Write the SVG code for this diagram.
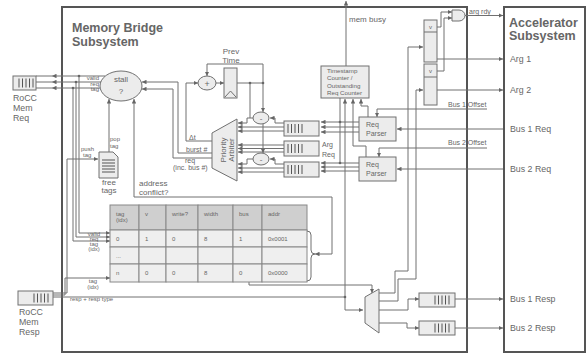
<svg xmlns="http://www.w3.org/2000/svg" width="587" height="354" viewBox="0 0 587 354">
<defs>
<marker id="a" viewBox="0 0 6 6" refX="6" refY="3" markerWidth="4.5" markerHeight="4.5" orient="auto-start-reverse" markerUnits="userSpaceOnUse"><path d="M0,0 L6,3 L0,6 z" fill="#666"/></marker>
<g id="qbars"><path d="M0,0V9M3.5,0V9M7,0V9M10.5,0V9M14,0V9" stroke="#555" stroke-width="1"/></g>
</defs>
<style>
.l{fill:none;stroke:#707070;stroke-width:1}
.la{fill:none;stroke:#707070;stroke-width:1;marker-end:url(#a)}
.bx{fill:#ececec;stroke:#707070;stroke-width:1}
.sys{fill:none;stroke:#555;stroke-width:2}
.t{font-family:"Liberation Sans",Arial,sans-serif;fill:#666}
.ttl{font-family:"Liberation Sans",Arial,sans-serif;fill:#666;font-weight:bold;font-size:12.5px}
.f6{font-size:6px}
.f7{font-size:7px}
.f8{font-size:8px}
.f9{font-size:8.8px}
.hd{fill:#cfcfcf;stroke:#888;stroke-width:1}
.cl{fill:#efefef;stroke:#888;stroke-width:1}
.d{fill:#666}
</style>
<rect width="587" height="354" fill="#fff"/>

<g id="memory-bridge">
<rect class="sys" x="62" y="7" width="405" height="345"/>
<text class="ttl" x="72" y="32">Memory Bridge</text>
<text class="ttl" x="72" y="46">Subsystem</text>
</g>
<g id="accelerator">
<rect class="sys" x="504" y="7" width="81" height="345"/>
<text class="ttl" x="509" y="27">Accelerator</text>
<text class="ttl" x="509" y="40">Subsystem</text>
<text class="t f9" x="510" y="62">Arg 1</text>
<text class="t f9" x="510" y="93">Arg 2</text>
<text class="t f9" x="510" y="132">Bus 1 Req</text>
<text class="t f9" x="510" y="172">Bus 2 Req</text>
<text class="t f9" x="510" y="302">Bus 1 Resp</text>
<text class="t f9" x="510" y="331">Bus 2 Resp</text>
</g>

<g id="connectors">
<path class="la" d="M105,76H52"/>
<path class="la" d="M101,82H52"/>
<path class="la" d="M100,88H52"/>
<path class="l" d="M52,76H36M52,82H36M52,88H36"/>
<path class="la" d="M79,76V233H110"/>
<path class="la" d="M76,82V237H110"/>
<path class="la" d="M73,88V241H110"/>
<circle class="d" cx="79" cy="76" r="1.3"/>
<circle class="d" cx="76" cy="82" r="1.3"/>
<circle class="d" cx="73" cy="88" r="1.3"/>
<path class="la" d="M109,152V99"/>
<path class="la" style="marker-start:url(#a)" d="M134,99V197H332V254H315"/>
<path class="la" d="M53,293H67V159H98"/>
<path class="la" d="M53,295H65V278H110"/>
<path class="la" d="M53,297H345V310H363"/>
<path class="la" d="M345,297V99"/>
<circle class="d" cx="345" cy="297" r="1.3"/>
<path class="la" d="M249,282V285H372V293"/>
<path class="la" d="M379,293H395V271H408V47H423"/>
<path class="la" d="M379,301H398V279H416V90H423"/>
<path class="la" d="M379,310H408V299H419"/>
<path class="la" d="M379,323H407V328H419"/>
<path class="la" d="M455,299H503"/>
<path class="la" d="M455,328H503"/>
<path class="la" d="M437,59H503"/>
<path class="la" d="M437,90H503"/>
<path class="la" d="M437,27H441V12H452"/>
<path class="la" d="M437,71H444V18H452"/>
<path class="la" d="M465,15.5H503"/>
<path class="la" d="M487,109H377V117"/>
<path class="la" d="M487,148H379V157"/>
<path class="la" d="M503,129H397"/>
<path class="la" d="M503,169H397"/>
<path class="la" d="M359,122H321"/>
<path class="la" d="M359,127H321"/>
<path class="la" d="M359,132H321"/>
<path class="la" d="M359,163H321"/>
<path class="la" d="M359,167H321"/>
<path class="la" d="M359,171H321"/>
<path class="l" d="M340,98V163"/>
<circle class="d" cx="340" cy="122" r="1.3"/>
<circle class="d" cx="340" cy="163" r="1.3"/>
<path class="la" d="M368,117V106H361V99"/>
<path class="la" d="M366,157V146H353V99"/>
<path class="la" d="M346,66V1"/>
<path class="la" d="M284,127H238"/>
<path class="la" d="M284,131H238"/>
<path class="la" d="M284,123H275V118H270"/>
<path class="la" d="M253,118H247V123H238"/>
<path class="la" d="M284,145H238"/>
<path class="la" d="M284,148.5H238"/>
<path class="la" d="M284,152H238"/>
<path class="la" d="M284,168H238"/>
<path class="la" d="M284,172H238"/>
<path class="la" d="M284,164H275V159H270"/>
<path class="la" d="M253,159H247V164H238"/>
<path class="la" d="M216,83H224"/>
<path class="l" d="M237,83H263"/>
<path class="la" d="M263,83V64H207V76"/>
<path class="la" d="M263,83V112"/>
<path class="la" d="M263,124V153"/>
<path class="l" d="M250,83V118"/>
<circle class="d" cx="250" cy="83" r="1.3"/>
<circle class="d" cx="263" cy="83" r="1.3"/>
<path class="la" d="M212,141H186V83H198"/>
<path class="la" d="M212,153H178V82H142"/>
<path class="la" d="M212,158H173V89H142"/>
</g>

<g id="rocc-mem-req">
<rect class="bx" x="13" y="76" width="23" height="14"/>
<use href="#qbars" x="19" y="78.5"/>
<text class="t f9" x="13" y="101">RoCC</text>
<text class="t f9" x="13" y="111">Mem</text>
<text class="t f9" x="13" y="121">Req</text>
</g>
<g id="rocc-mem-resp">
<rect class="bx" x="18" y="291" width="35" height="14"/>
<use href="#qbars" x="34" y="293.5"/>
<text class="t f9" x="19" y="315">RoCC</text>
<text class="t f9" x="19" y="325">Mem</text>
<text class="t f9" x="19" y="335">Resp</text>
<text class="t f6" x="70" y="301">resp + resp type</text>
</g>

<g id="stall">
<ellipse cx="121" cy="86" rx="21" ry="15" fill="#ececec" stroke="#707070"/>
<text class="t f8" x="121" y="82" text-anchor="middle">stall</text>
<text class="t f8" x="121" y="94" text-anchor="middle">?</text>
<text class="t f6" x="99" y="80" text-anchor="end">valid</text>
<text class="t f6" x="99" y="85.5" text-anchor="end">req</text>
<text class="t f6" x="99" y="91" text-anchor="end">tag</text>
<text class="t f6" x="110" y="141">pop</text>
<text class="t f6" x="110" y="147.5">tag</text>
<text class="t f8" x="139" y="186">address</text>
<text class="t f8" x="139" y="195">conflict?</text>
</g>

<g id="free-tags">
<path d="M99,152H113L118,157V178H99Z" fill="#ececec" stroke="#707070"/>
<path d="M102,160H115M102,163H115M102,166H115M102,169H115M102,172H115" stroke="#555" stroke-width="1"/>
<text class="t f8" x="109" y="185" text-anchor="middle">free</text>
<text class="t f8" x="109" y="193" text-anchor="middle">tags</text>
<text class="t f6" x="81" y="151">push</text>
<text class="t f6" x="83" y="157">tag</text>
</g>

<g id="tag-table">
<rect class="hd" x="110" y="205" width="29" height="25"/>
<rect class="hd" x="139" y="205" width="27" height="25"/>
<rect class="hd" x="166" y="205" width="32" height="25"/>
<rect class="hd" x="198" y="205" width="35" height="25"/>
<rect class="hd" x="233" y="205" width="29" height="25"/>
<rect class="hd" x="262" y="205" width="45" height="25"/>
<rect class="cl" x="110" y="230" width="29" height="17"/>
<rect class="cl" x="139" y="230" width="27" height="17"/>
<rect class="cl" x="166" y="230" width="32" height="17"/>
<rect class="cl" x="198" y="230" width="35" height="17"/>
<rect class="cl" x="233" y="230" width="29" height="17"/>
<rect class="cl" x="262" y="230" width="45" height="17"/>
<rect class="cl" x="110" y="247" width="29" height="17"/>
<rect class="cl" x="139" y="247" width="27" height="17"/>
<rect class="cl" x="166" y="247" width="32" height="17"/>
<rect class="cl" x="198" y="247" width="35" height="17"/>
<rect class="cl" x="233" y="247" width="29" height="17"/>
<rect class="cl" x="262" y="247" width="45" height="17"/>
<rect class="cl" x="110" y="264" width="29" height="18"/>
<rect class="cl" x="139" y="264" width="27" height="18"/>
<rect class="cl" x="166" y="264" width="32" height="18"/>
<rect class="cl" x="198" y="264" width="35" height="18"/>
<rect class="cl" x="233" y="264" width="29" height="18"/>
<rect class="cl" x="262" y="264" width="45" height="18"/>
<g class="t f6">
<text x="116" y="216">tag</text><text x="116" y="222">(idx)</text>
<text x="145" y="216">v</text><text x="172" y="216">write?</text><text x="204" y="216">width</text><text x="239" y="216">bus</text><text x="268" y="216">addr</text>
<text x="116" y="241">0</text><text x="145" y="241">1</text><text x="172" y="241">0</text><text x="204" y="241">8</text><text x="239" y="241">1</text><text x="268" y="241">0x0001</text>
<text x="116" y="258">...</text>
<text x="116" y="275">n</text><text x="145" y="275">0</text><text x="172" y="275">0</text><text x="204" y="275">8</text><text x="239" y="275">0</text><text x="268" y="275">0x0000</text>
<text x="94" y="235.5" text-anchor="middle">valid</text>
<text x="94" y="240.5" text-anchor="middle">req</text>
<text x="94" y="245.5" text-anchor="middle">tag</text>
<text x="94" y="251" text-anchor="middle">(idx)</text>
<text x="93" y="283" text-anchor="middle">tag</text>
<text x="93" y="289" text-anchor="middle">(idx)</text>
</g>
<path class="l" d="M307,231Q311,231 311,235V250Q311,254 315,254Q311,254 311,258V277Q311,281 307,281"/>
</g>

<g id="prev-time">
<ellipse cx="207" cy="83" rx="9" ry="7" fill="#ececec" stroke="#707070"/>
<text class="t f9" x="207" y="86.5" text-anchor="middle">+</text>
<rect class="bx" x="224" y="68" width="13" height="30"/>
<path class="l" d="M225,97L230.5,91L236,97"/>
<text class="t f8" x="231" y="54" text-anchor="middle">Prev</text>
<text class="t f8" x="231" y="63" text-anchor="middle">Time</text>
</g>

<g id="subtractors">
<ellipse cx="261" cy="118" rx="8" ry="6" fill="#ececec" stroke="#707070"/>
<text class="t f8" x="261" y="121" text-anchor="middle">-</text>
<ellipse cx="261" cy="159" rx="8" ry="6" fill="#ececec" stroke="#707070"/>
<text class="t f8" x="261" y="162" text-anchor="middle">-</text>
</g>

<g id="priority-arbiter">
<polygon points="212,133 237,119 237,181 212,168" fill="#ececec" stroke="#707070"/>
<text class="t f8" transform="translate(226,150) rotate(-90)" text-anchor="middle">Priority</text>
<text class="t f8" transform="translate(234,150) rotate(-90)" text-anchor="middle">Arbiter</text>
<text class="t f7" x="189" y="139.5">Δt</text>
<text class="t f7" x="186" y="151.5">burst #</text>
<text class="t f7" x="185" y="163">req</text>
<text class="t f7" x="173" y="170">(inc. bus #)</text>
</g>

<g id="queues">
<rect class="bx" x="284" y="121" width="35" height="15"/><use href="#qbars" x="288" y="124"/>
<rect class="bx" x="284" y="141" width="35" height="15"/><use href="#qbars" x="288" y="144"/>
<rect class="bx" x="284" y="162" width="35" height="15"/><use href="#qbars" x="288" y="165"/>
<text class="t f7" x="322" y="147">Arg</text>
<text class="t f7" x="322" y="157">Req</text>
</g>

<g id="timestamp-counter">
<rect class="bx" x="321" y="66" width="48" height="32"/>
<g class="t" style="font-size:6.2px">
<text x="327" y="72.5">Timestamp</text>
<text x="327" y="80">Counter /</text>
<text x="327" y="87.5">Outstanding</text>
<text x="327" y="95">Req Counter</text>
</g>
<text class="t f8" x="349" y="22">mem busy</text>
</g>

<g id="req-parser-1">
<rect class="bx" x="359" y="117" width="37" height="24"/>
<text class="t f7" x="366" y="127">Req</text>
<text class="t f7" x="366" y="136">Parser</text>
<text class="t f7" x="448" y="107">Bus 1 Offset</text>
</g>
<g id="req-parser-2">
<rect class="bx" x="359" y="157" width="37" height="24"/>
<text class="t f7" x="366" y="167">Req</text>
<text class="t f7" x="366" y="176">Parser</text>
<text class="t f7" x="448" y="145">Bus 2 Offset</text>
</g>

<g id="arg-registers">
<rect class="bx" x="424" y="20" width="13" height="42"/>
<line class="l" x1="424" y1="32" x2="437" y2="32"/>
<text class="t f6" x="430.5" y="29" text-anchor="middle">v</text>
<rect class="bx" x="424" y="64" width="13" height="41"/>
<line class="l" x1="424" y1="77" x2="437" y2="77"/>
<text class="t f6" x="430.5" y="73" text-anchor="middle">v</text>
<path d="M452,10H459A6,5.5 0 0 1 459,21H452Z" fill="#ececec" stroke="#707070"/>
<text class="t f7" x="469" y="14">arg rdy</text>
</g>

<g id="resp-demux">
<polygon points="365,297 379,289 379,333 365,323" fill="#ececec" stroke="#707070"/>
</g>
<g id="resp-queues">
<rect class="bx" x="419" y="293" width="36" height="14"/><use href="#qbars" x="435" y="295.5"/>
<rect class="bx" x="419" y="321" width="36" height="14"/><use href="#qbars" x="435" y="323.5"/>
</g>
</svg>
